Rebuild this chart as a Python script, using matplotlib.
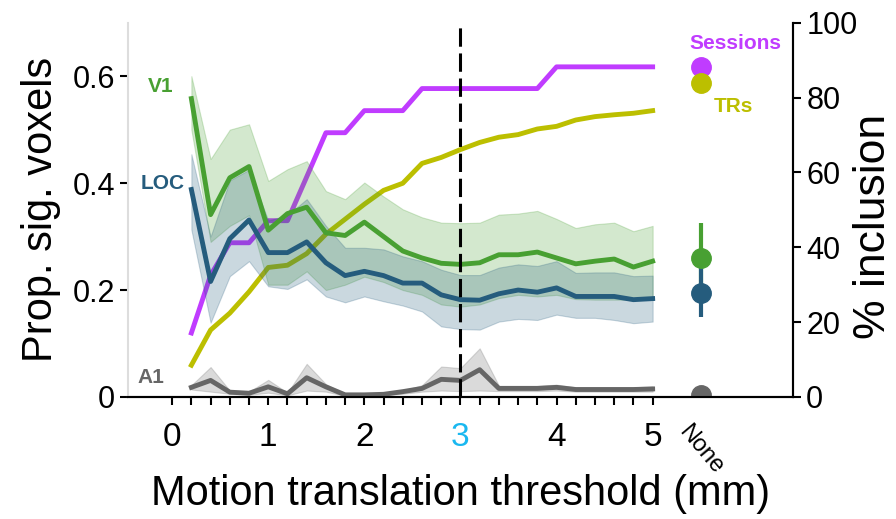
import numpy as np
import matplotlib.pyplot as plt

plt.rcParams['font.family'] = ['Liberation Sans', 'DejaVu Sans']

# motion thresholds (mm), one point every 0.2 mm
thresholds = [0.2, 0.4, 0.6, 0.8, 1.0, 1.2, 1.4, 1.6, 1.8, 2.0, 2.2, 2.4, 2.6,
              2.8, 3.0, 3.2, 3.4, 3.6, 3.8, 4.0, 4.2, 4.4, 4.6, 4.8, 5.0]

# proportion of significant voxels (left axis)
v1_mean = [0.558, 0.341, 0.41, 0.431, 0.312, 0.343, 0.355, 0.307, 0.302, 0.327, 0.30, 0.273, 0.26,
           0.25, 0.248, 0.251, 0.266, 0.266, 0.271, 0.26, 0.249, 0.254, 0.258, 0.243, 0.254]
v1_hi = [0.60, 0.445, 0.50, 0.51, 0.404, 0.426, 0.441, 0.385, 0.37, 0.401, 0.375, 0.351, 0.336,
         0.326, 0.325, 0.326, 0.341, 0.343, 0.348, 0.333, 0.316, 0.323, 0.326, 0.31, 0.32]
v1_lo = [0.50, 0.29, 0.32, 0.34, 0.21, 0.21, 0.235, 0.20, 0.21, 0.225, 0.215, 0.20, 0.191,
         0.173, 0.169, 0.173, 0.185, 0.191, 0.188, 0.191, 0.183, 0.182, 0.182, 0.182, 0.182]

loc_mean = [0.388, 0.216, 0.296, 0.331, 0.27, 0.27, 0.29, 0.251, 0.227, 0.235, 0.227, 0.213, 0.213,
            0.191, 0.182, 0.181, 0.193, 0.2, 0.196, 0.204, 0.188, 0.188, 0.188, 0.182, 0.184]
loc_hi = [0.454, 0.30, 0.405, 0.425, 0.33, 0.34, 0.37, 0.32, 0.279, 0.279, 0.276, 0.263, 0.254,
          0.238, 0.228, 0.228, 0.242, 0.248, 0.245, 0.254, 0.232, 0.233, 0.233, 0.226, 0.227]
loc_lo = [0.313, 0.139, 0.226, 0.254, 0.207, 0.202, 0.22, 0.188, 0.177, 0.188, 0.179, 0.171, 0.16,
          0.132, 0.127, 0.126, 0.141, 0.146, 0.144, 0.154, 0.148, 0.148, 0.144, 0.138, 0.141]

a1_mean = [0.018, 0.031, 0.009, 0.007, 0.019, 0.006, 0.036, 0.019, 0.004, 0.004, 0.005, 0.01, 0.016,
           0.033, 0.031, 0.051, 0.016, 0.016, 0.016, 0.018, 0.014, 0.014, 0.014, 0.014, 0.015]
a1_hi = [0.022, 0.056, 0.012, 0.01, 0.032, 0.008, 0.062, 0.024, 0.006, 0.006, 0.008, 0.012, 0.022,
         0.057, 0.054, 0.091, 0.021, 0.021, 0.021, 0.023, 0.018, 0.018, 0.018, 0.018, 0.02]
a1_lo = [0.014, 0.01, 0.006, 0.004, 0.008, 0.003, 0.012, 0.01, 0.002, 0.003, 0.004, 0.006, 0.01,
         0.012, 0.011, 0.012, 0.011, 0.011, 0.011, 0.012, 0.01, 0.01, 0.01, 0.01, 0.01]

# % inclusion (right axis)
sessions = [17.1, 32.5, 41.2, 41.2, 47.1, 47.1, 58.8, 70.6, 70.6, 76.5, 76.5, 76.5, 82.4,
            82.4, 82.4, 82.4, 82.4, 82.4, 82.4, 88.2, 88.2, 88.2, 88.2, 88.2, 88.2]
trs = [8.5, 17.9, 22.4, 28.1, 34.6, 35.2, 38.3, 43.5, 47.5, 51.5, 55.2, 57.1, 62.4,
       64.0, 66.1, 68.0, 69.4, 70.1, 71.6, 72.3, 74.0, 74.9, 75.4, 75.8, 76.5]

# no motion threshold ("None")
none_v1 = [0.26, 0.20, 0.326]
none_loc = [0.195, 0.149, 0.25]
none_a1 = 0.004
none_sessions = 88.1
none_trs = 83.8

xtick_pos = np.round(np.arange(0, 5.01, 0.2), 1)
xtick_lab = [str(int(t)) if t == int(t) else '' for t in xtick_pos]

c_v1 = '#48a032'
c_loc = '#255c7d'
c_a1 = '#666666'
c_ses = '#c03cff'
c_tr = '#bcbf00'

fig = plt.figure(figsize=(8.96, 5.19), dpi=100)
ax = fig.add_axes([0.1429, 0.2351, 0.7422, 0.7212])
ax2 = ax.twinx()
ax.set_zorder(ax2.get_zorder() + 1)
ax.patch.set_visible(False)

# inclusion lines (drawn under the voxel curves)
ax2.plot(thresholds, sessions, color=c_ses, lw=3.5)
ax2.plot(thresholds, trs, color=c_tr, lw=3.5)
ax2.plot([5.5], [none_sessions], 'o', color=c_ses, ms=14, clip_on=False)
ax2.plot([5.5], [none_trs], 'o', color=c_tr, ms=14, clip_on=False)
ax2.set_ylim(0, 100)
ax2.set_yticks([0, 20, 40, 60, 80, 100])
ax2.tick_params(axis='y', labelsize=22, length=6, width=1.5)
fig.text(873 / 896, 1 - 226 / 519, '% inclusion', fontsize=32, rotation=90,
         ha='center', va='center')

for m, lo, hi, c in [(v1_mean, v1_lo, v1_hi, c_v1), (loc_mean, loc_lo, loc_hi, c_loc),
                     (a1_mean, a1_lo, a1_hi, c_a1)]:
    ax.fill_between(thresholds, lo, hi, color=c, alpha=0.24, lw=0.8)
    ax.plot(thresholds, m, color=c, lw=3.5)

ax.errorbar([5.5], [none_v1[0]], yerr=[[none_v1[0] - none_v1[1]], [none_v1[2] - none_v1[0]]],
            fmt='o', color=c_v1, ms=14, elinewidth=3, capsize=0)
ax.errorbar([5.5], [none_loc[0]], yerr=[[none_loc[0] - none_loc[1]], [none_loc[2] - none_loc[0]]],
            fmt='o', color=c_loc, ms=14, elinewidth=3, capsize=0)
ax.plot([5.5], [none_a1], 'o', color=c_a1, ms=14)

ax.axvline(3, color='black', lw=2.2, ls=(0, (6, 2.2)), zorder=5)

ax.text(-0.12, 0.58, 'V1', color=c_v1, fontsize=15, fontweight='bold', ha='center', va='center')
ax.text(-0.1, 0.40, 'LOC', color=c_loc, fontsize=15, fontweight='bold', ha='center', va='center')
ax.text(-0.22, 0.036, 'A1', color=c_a1, fontsize=15, fontweight='bold', ha='center', va='center')
ax2.text(5.86, 94.4, 'Sessions', color=c_ses, fontsize=15, fontweight='bold', ha='center', va='center')
ax2.text(5.84, 77.6, 'TRs', color=c_tr, fontsize=15, fontweight='bold', ha='center', va='center')

ax.set_xlim(-0.459, 6.461)
ax.set_ylim(0, 0.7)
ax.set_yticks([0, 0.2, 0.4, 0.6])
ax.set_yticklabels(['0', '0.2', '0.4', '0.6'])
ax.set_xticks(xtick_pos)
ax.set_xticklabels(xtick_lab)
ax.get_xticklabels()[15].set_color('#1ab8f0')
ax.text(5.4, -0.045, 'None', fontsize=17, rotation=-50, ha='left', va='top',
        rotation_mode='anchor')
ax.tick_params(axis='x', labelsize=24, length=6, width=1.5, pad=12)
ax.tick_params(axis='y', labelsize=22, length=6, width=1.5)
ax.set_ylabel('Prop. sig. voxels', fontsize=30, labelpad=8)
ax.set_xlabel('Motion translation threshold (mm)', fontsize=30, labelpad=15)

for a in (ax, ax2):
    a.spines['top'].set_visible(False)
    for s in ('left', 'right', 'bottom'):
        a.spines[s].set_linewidth(1.5)
ax.spines['left'].set_color('#dddddd')
ax2.spines['left'].set_visible(False)
ax2.spines['right'].set_color('#444444')

fig.savefig('out.png', dpi=100)
